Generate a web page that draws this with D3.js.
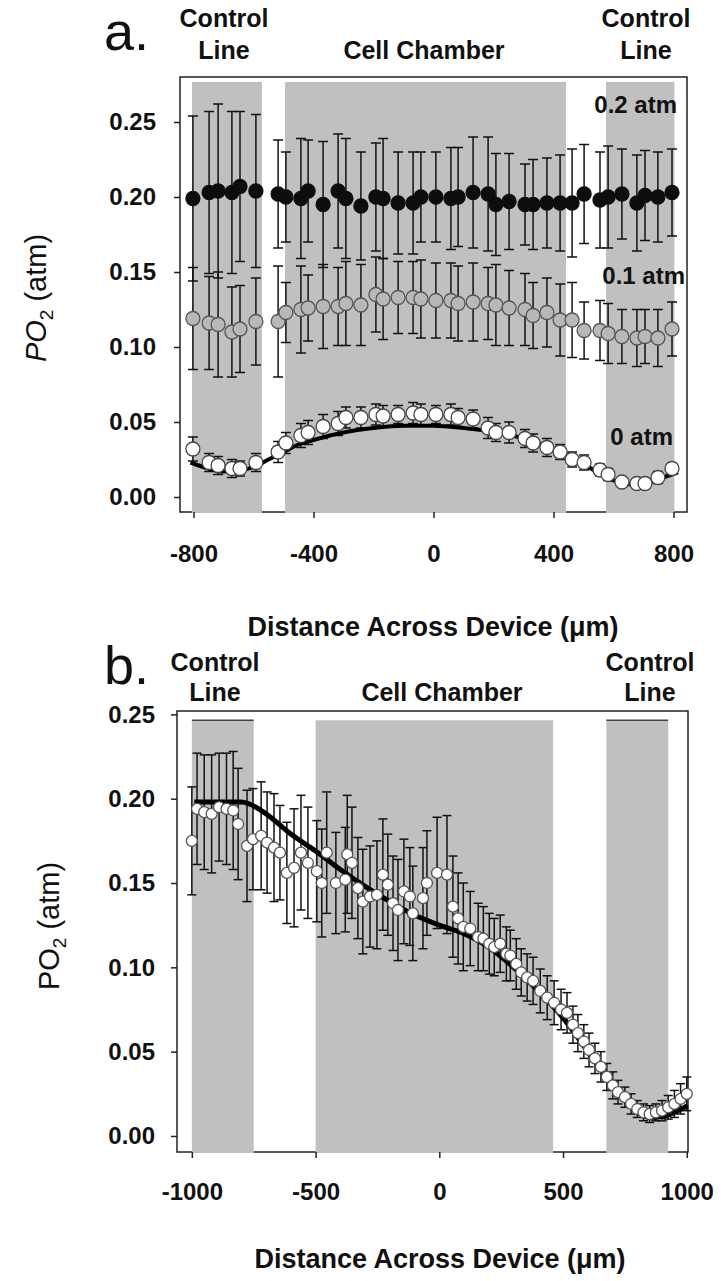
<!DOCTYPE html>
<html>
<head>
<meta charset="utf-8">
<script src="https://cdn.jsdelivr.net/npm/d3@7"></script>
<style>
  body { margin: 0; background: #fff; }
  svg text { font-family: Arial, "Liberation Sans", sans-serif; fill: #111; }
</style>
</head>
<body>
<svg id="chart" width="721" height="1281"></svg>
<script>
// ---------- panel a data ----------
const xA = [-802, -748, -718, -672, -645, -592, -518, -492, -442, -418, -368, -318, -292, -242, -192, -168, -118, -68, -42, 8,
            58, 82, 132, 182, 208, 252, 305, 332, 378, 422, 462, 502, 555, 582, 628, 678, 705, 748, 795];
// 0.2 atm (black)
const highA = [0.199, 0.203, 0.204, 0.203, 0.207, 0.204, 0.202, 0.200, 0.199, 0.204, 0.195, 0.204, 0.199, 0.194, 0.200, 0.199, 0.196, 0.196, 0.200, 0.200,
               0.199, 0.200, 0.203, 0.202, 0.195, 0.197, 0.195, 0.195, 0.196, 0.196, 0.196, 0.202, 0.198, 0.200, 0.202, 0.196, 0.201, 0.200, 0.203];
const highErrA = [0.055, 0.054, 0.058, 0.054, 0.050, 0.051, 0.036, 0.030, 0.040, 0.034, 0.042, 0.038, 0.040, 0.036, 0.036, 0.040, 0.034, 0.034, 0.030, 0.030,
                  0.034, 0.033, 0.037, 0.038, 0.034, 0.032, 0.027, 0.030, 0.030, 0.032, 0.036, 0.033, 0.032, 0.034, 0.030, 0.032, 0.030, 0.030, 0.029];
// 0.1 atm (grey)
const midA = [0.119, 0.116, 0.115, 0.110, 0.112, 0.117, 0.117, 0.123, 0.125, 0.126, 0.127, 0.127, 0.129, 0.128, 0.135, 0.132, 0.133, 0.133, 0.132, 0.131,
              0.131, 0.129, 0.130, 0.129, 0.128, 0.126, 0.125, 0.121, 0.123, 0.118, 0.118, 0.111, 0.111, 0.109, 0.107, 0.106, 0.107, 0.106, 0.112];
const midErrA = [0.034, 0.031, 0.035, 0.030, 0.029, 0.029, 0.037, 0.020, 0.029, 0.022, 0.028, 0.026, 0.028, 0.027, 0.025, 0.027, 0.024, 0.024, 0.026, 0.025,
                 0.025, 0.025, 0.026, 0.024, 0.027, 0.025, 0.024, 0.022, 0.023, 0.024, 0.025, 0.019, 0.020, 0.020, 0.018, 0.019, 0.018, 0.019, 0.018];
// 0 atm (white)
const lowA = [0.032, 0.023, 0.021, 0.019, 0.019, 0.023, 0.030, 0.036, 0.041, 0.043, 0.047, 0.049, 0.053, 0.053, 0.055, 0.054, 0.055, 0.056, 0.055, 0.055,
              0.055, 0.053, 0.052, 0.046, 0.043, 0.043, 0.039, 0.036, 0.033, 0.030, 0.025, 0.023, 0.018, 0.015, 0.010, 0.009, 0.009, 0.013, 0.019];
const lowErrA = [0.008, 0.006, 0.006, 0.006, 0.005, 0.006, 0.007, 0.007, 0.008, 0.008, 0.008, 0.008, 0.007, 0.007, 0.007, 0.007, 0.006, 0.007, 0.007, 0.006,
                 0.007, 0.006, 0.006, 0.007, 0.006, 0.007, 0.006, 0.006, 0.006, 0.005, 0.005, 0.005, 0.004, 0.004, 0.003, 0.003, 0.003, 0.004, 0.003];
// model curve for 0 atm
const fitAX = [-810, -750, -700, -650, -600, -550, -500, -450, -400, -300, -200, -100, 0, 100, 200, 300, 400, 450, 500, 550, 600, 650, 700, 750, 815];
const fitAY = [0.023, 0.019, 0.017, 0.0175, 0.020, 0.025, 0.030, 0.035, 0.038, 0.043, 0.046, 0.0475, 0.0475, 0.046, 0.0435, 0.039, 0.032, 0.027, 0.022, 0.016, 0.011, 0.0085, 0.009, 0.012, 0.0165];
const regionsA = [[-805, -572], [-495, 442], [575, 803]];
const xTicksA = [-800, -400, 0, 400, 800];

// ---------- panel b data ----------
const xB = [-1000, -979, -950, -920, -890, -860, -833, -813, -777, -753, -720, -696, -668, -644, -616, -587, -559, -531, -495, -475,
            -455, -418, -380, -372, -353, -329, -309, -280, -252, -228, -208, -187, -167, -143, -119, -107, -66, -50, -9, 31,
            55, 76, 97, 125, 157, 178, 202, 222, 246, 271, 287, 311, 331, 355, 379, 408, 436, 464, 492, 516,
            540, 560, 584, 605, 629, 653, 677, 701, 722, 750, 775, 800, 825, 850, 875, 900, 925, 950, 975, 1000];
const valB = [0.175, 0.194, 0.192, 0.191, 0.195, 0.194, 0.193, 0.185, 0.172, 0.176, 0.178, 0.174, 0.171, 0.168, 0.156, 0.159, 0.168, 0.162, 0.157, 0.150,
              0.168, 0.150, 0.152, 0.167, 0.162, 0.147, 0.139, 0.142, 0.143, 0.155, 0.149, 0.138, 0.134, 0.145, 0.142, 0.132, 0.141, 0.150, 0.156, 0.155,
              0.136, 0.129, 0.124, 0.123, 0.118, 0.117, 0.114, 0.112, 0.114, 0.108, 0.107, 0.102, 0.097, 0.094, 0.092, 0.086, 0.082, 0.079, 0.075, 0.073,
              0.066, 0.061, 0.056, 0.051, 0.046, 0.041, 0.035, 0.030, 0.026, 0.023, 0.019, 0.016, 0.014, 0.013, 0.014, 0.015, 0.017, 0.019, 0.022, 0.025];
const errB = [0.032, 0.033, 0.034, 0.035, 0.032, 0.033, 0.035, 0.033, 0.033, 0.030, 0.032, 0.030, 0.032, 0.028, 0.030, 0.035, 0.034, 0.033, 0.030, 0.032,
              0.036, 0.030, 0.031, 0.035, 0.033, 0.030, 0.031, 0.030, 0.032, 0.033, 0.030, 0.028, 0.030, 0.031, 0.029, 0.028, 0.030, 0.031, 0.033, 0.035,
              0.030, 0.027, 0.026, 0.022, 0.020, 0.019, 0.018, 0.017, 0.017, 0.016, 0.015, 0.015, 0.014, 0.014, 0.014, 0.013, 0.013, 0.013, 0.012, 0.012,
              0.011, 0.011, 0.010, 0.010, 0.009, 0.009, 0.008, 0.008, 0.007, 0.006, 0.006, 0.005, 0.005, 0.005, 0.005, 0.006, 0.007, 0.008, 0.009, 0.010];
const fitBX = [-990, -900, -800, -770, -700, -600, -500, -400, -300, -200, -100, 0, 100, 200, 300, 400, 500, 600, 650, 700, 750, 800, 850, 900, 950, 1003];
const fitBY = [0.198, 0.198, 0.198, 0.197, 0.191, 0.179, 0.169, 0.158, 0.148, 0.139, 0.131, 0.125, 0.120, 0.112, 0.100, 0.086, 0.070, 0.050, 0.040, 0.030, 0.021, 0.015, 0.011, 0.0115, 0.014, 0.018];
const regionsB = [[-1000, -750], [-500, 460], [675, 925]];
const xTicksB = [-1000, -500, 0, 500, 1000];

const yTicks = [0, 0.05, 0.10, 0.15, 0.20, 0.25];

const svg = d3.select("#chart");
const band = "#c0c0c0";

function drawPanel(p) {
    const x = d3.scaleLinear().domain(p.xDomain).range(p.xRange);
    const y = d3.scaleLinear().domain(p.yDomain).range(p.yRange);
    const g = svg.append("g");

    // frame
    g.append("rect")
        .attr("x", p.xRange[0]).attr("y", p.yRange[1])
        .attr("width", p.xRange[1] - p.xRange[0])
        .attr("height", p.yRange[0] - p.yRange[1])
        .attr("fill", "none").attr("stroke", "#222").attr("stroke-width", 1.5);

    // shaded device regions (drawn over the bottom axis line)
    g.selectAll(".region")
        .data(p.regions)
        .enter()
        .append("rect")
        .attr("x", d => x(d[0]))
        .attr("width", d => x(d[1]) - x(d[0]))
        .attr("y", y(p.bandTop))
        .attr("height", p.yRange[0] + 1 - y(p.bandTop))
        .attr("fill", band);

    if (p.bandEdges) {
        g.selectAll(".edge")
            .data(p.bandEdges)
            .enter()
            .append("line")
            .attr("x1", d => x(p.regions[d][0])).attr("x2", d => x(p.regions[d][1]))
            .attr("y1", y(p.bandTop)).attr("y2", y(p.bandTop))
            .attr("stroke", "#444").attr("stroke-width", 1.5);
    }

    // axes (plain hyphen for negatives, as in the original)
    const yAxis = g.append("g")
        .attr("transform", `translate(${p.xRange[0]},0)`)
        .call(d3.axisLeft(y).tickValues(yTicks).tickFormat(d3.format(".2f")).tickSize(6).tickPadding(p.yPad));
    const xAxis = g.append("g")
        .attr("transform", `translate(0,${p.yRange[0]})`)
        .call(d3.axisBottom(x).tickValues(p.xTicks).tickFormat(d => String(d)).tickSize(6).tickPadding(p.xPad));
    [yAxis, xAxis].forEach(a => {
        a.select(".domain").remove();
        a.selectAll("line").attr("stroke", "#222").attr("stroke-width", 1.5);
        a.selectAll("text")
            .attr("fill", "#111")
            .style("font-size", "24px")
            .style("font-weight", "bold");
    });

    // series
    p.series.forEach(s => {
        const pts = s.xs.map((xv, i) => ({ x: xv, v: s.vals[i], e: s.errs[i] }));
        const eb = g.append("g").attr("stroke", "#111").attr("stroke-width", 1.5);
        eb.selectAll(".bar").data(pts).enter().append("line")
            .attr("x1", d => x(d.x)).attr("x2", d => x(d.x))
            .attr("y1", d => y(d.v - d.e)).attr("y2", d => y(d.v + d.e));
        eb.selectAll(".capTop").data(pts).enter().append("line")
            .attr("x1", d => x(d.x) - p.cap).attr("x2", d => x(d.x) + p.cap)
            .attr("y1", d => y(d.v + d.e)).attr("y2", d => y(d.v + d.e));
        eb.selectAll(".capBot").data(pts).enter().append("line")
            .attr("x1", d => x(d.x) - p.cap).attr("x2", d => x(d.x) + p.cap)
            .attr("y1", d => y(d.v - d.e)).attr("y2", d => y(d.v - d.e));

        if (s.fitX) {
            const line = d3.line().x(d => x(d[0])).y(d => y(d[1])).curve(d3.curveMonotoneX);
            g.append("path")
                .attr("d", line(d3.zip(s.fitX, s.fitY)))
                .attr("fill", "none").attr("stroke", "#000").attr("stroke-width", p.fitWidth);
        }

        g.selectAll(null).data(pts).enter().append("circle")
            .attr("cx", d => x(d.x)).attr("cy", d => y(d.v)).attr("r", p.r)
            .attr("fill", s.fill).attr("stroke", s.stroke).attr("stroke-width", 1.3);
    });
}

drawPanel({
    xDomain: [-845, 845], xRange: [180, 687],
    yDomain: [-0.01, 0.28], yRange: [512, 77],
    bandTop: 0.2767, regions: regionsA, xTicks: xTicksA,
    yPad: 18, xPad: 27, cap: 5, r: 7, fitWidth: 4,
    series: [
        { xs: xA, vals: lowA, errs: lowErrA, fill: "#fff", stroke: "#444", fitX: fitAX, fitY: fitAY },
        { xs: xA, vals: midA, errs: midErrA, fill: "#b8b8b8", stroke: "#555" },
        { xs: xA, vals: highA, errs: highErrA, fill: "#0d0d0d", stroke: "#0d0d0d" }
    ]
});

drawPanel({
    xDomain: [-1060, 1005], xRange: [177, 688],
    yDomain: [-0.0095, 0.252], yRange: [1152, 711],
    bandTop: 0.2465, regions: regionsB, bandEdges: [0, 2], xTicks: xTicksB,
    yPad: 16, xPad: 25, cap: 4.5, r: 5.5, fitWidth: 5,
    series: [
        { xs: xB, vals: valB, errs: errB, fill: "#fff", stroke: "#555", fitX: fitBX, fitY: fitBY }
    ]
});

// ---------- text ----------
function label(txt, x, y, size, weight, anchor) {
    return svg.append("text")
        .attr("x", x).attr("y", y)
        .attr("text-anchor", anchor || "middle")
        .style("font-size", size + "px")
        .style("font-weight", weight || "bold")
        .text(txt);
}

// panel a headings
label("a.", 104, 50, 54, "normal", "start");
label("Control", 224, 27, 25);
label("Line", 224, 59, 25);
label("Cell Chamber", 424, 59, 25);
label("Control", 646, 27, 25);
label("Line", 646, 59, 25);
label("0.2 atm", 677, 113, 24, "bold", "end");
label("0.1 atm", 685, 284, 24, "bold", "end");
label("0 atm", 673, 445, 24, "bold", "end");
label("Distance Across Device (\u03bcm)", 433, 636, 27);

// panel b headings
label("b.", 104, 684, 54, "normal", "start");
label("Control", 215, 671, 25);
label("Line", 215, 701, 25);
label("Cell Chamber", 442, 701, 25);
label("Control", 650, 671, 25);
label("Line", 650, 701, 25);
label("Distance Across Device (\u03bcm)", 440, 1268, 27);

// y-axis titles
function yTitle(cx, cy, italic) {
    const t = svg.append("text")
        .attr("transform", `translate(${cx},${cy}) rotate(-90)`)
        .attr("text-anchor", "middle")
        .style("font-size", "29px");
    t.append("tspan").text("PO").style("font-style", italic ? "italic" : "normal");
    t.append("tspan").text("2").attr("dy", 7).style("font-size", "19px");
    t.append("tspan").text(" (atm)").attr("dy", -7);
}
yTitle(46, 298, true);
yTitle(59, 926, false);
</script>
</body>
</html>
